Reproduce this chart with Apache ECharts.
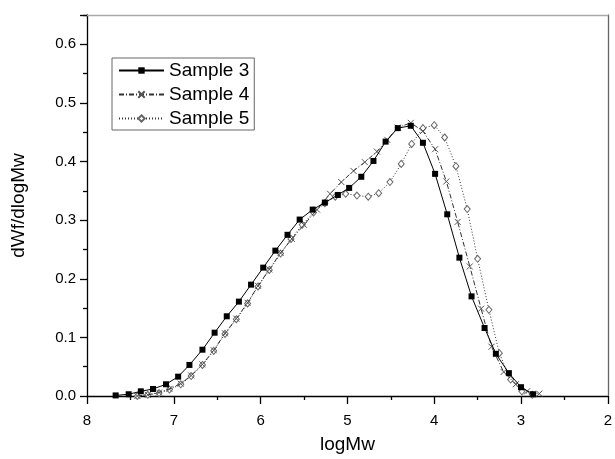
<!DOCTYPE html>
<html><head><meta charset="utf-8">
<script src="https://cdn.jsdelivr.net/npm/echarts@6/dist/echarts.min.js"></script>
<style>html,body{margin:0;padding:0;background:#fff}#c{width:615px;height:459px}</style>
</head><body><div id="c"></div>
<script>
// logMw values and dWf/dlogMw values
const sample3X = [7.67, 7.52, 7.38, 7.24, 7.09, 6.95, 6.82, 6.67, 6.53, 6.39, 6.25, 6.11, 5.97, 5.83, 5.69, 5.55, 5.40, 5.26, 5.11, 4.98, 4.84, 4.70, 4.56, 4.42, 4.27, 4.13, 3.99, 3.85, 3.71, 3.57, 3.42, 3.29, 3.14, 3.00, 2.86];
const sample3Y = [0.001, 0.003, 0.008, 0.012, 0.020, 0.033, 0.053, 0.079, 0.108, 0.136, 0.161, 0.190, 0.219, 0.248, 0.275, 0.301, 0.318, 0.330, 0.343, 0.355, 0.374, 0.401, 0.434, 0.457, 0.461, 0.432, 0.379, 0.310, 0.236, 0.170, 0.116, 0.072, 0.039, 0.015, 0.003];

const sample4X = [7.42, 7.30, 7.17, 7.05, 6.92, 6.80, 6.67, 6.54, 6.41, 6.28, 6.15, 6.03, 5.90, 5.77, 5.64, 5.50, 5.35, 5.20, 5.07, 4.93, 4.80, 4.66, 4.54, 4.42, 4.27, 4.13, 3.99, 3.86, 3.73, 3.59, 3.46, 3.34, 3.20, 3.06, 2.93, 2.79];
const sample4Y = [0.000, 0.002, 0.006, 0.012, 0.021, 0.035, 0.054, 0.078, 0.107, 0.132, 0.159, 0.188, 0.216, 0.244, 0.268, 0.292, 0.318, 0.345, 0.365, 0.384, 0.399, 0.417, 0.437, 0.458, 0.466, 0.452, 0.421, 0.366, 0.297, 0.221, 0.149, 0.084, 0.041, 0.020, 0.008, 0.004];

const sample5X = [7.42, 7.30, 7.17, 7.05, 6.92, 6.80, 6.67, 6.54, 6.41, 6.28, 6.15, 6.03, 5.90, 5.77, 5.65, 5.52, 5.39, 5.26, 5.14, 5.02, 4.89, 4.76, 4.64, 4.51, 4.38, 4.26, 4.13, 4.00, 3.88, 3.75, 3.62, 3.50, 3.37, 3.25, 3.12, 2.99, 2.87];
const sample5Y = [0.000, 0.002, 0.005, 0.011, 0.020, 0.034, 0.053, 0.077, 0.106, 0.131, 0.158, 0.187, 0.215, 0.243, 0.268, 0.292, 0.313, 0.329, 0.340, 0.345, 0.342, 0.340, 0.346, 0.365, 0.396, 0.430, 0.457, 0.462, 0.441, 0.392, 0.319, 0.234, 0.147, 0.073, 0.028, 0.008, 0.002];

const seriesNames = ['Sample 3', 'Sample 4', 'Sample 5'];
const xTitle = 'logMw';
const yTitle = 'dWf/dlogMw';

function pairs(xs, ys) { return xs.map((x, i) => [x, ys[i]]); }

const FONT = '"Liberation Sans", Arial, sans-serif';
const chart = echarts.init(document.getElementById('c'), null, {renderer: 'canvas'});

const option = {
  animation: false,
  backgroundColor: '#fff',
  textStyle: {fontFamily: FONT},
  grid: {left: 87, right: 2, top: 15, bottom: 55},
  legend: {
    orient: 'vertical', left: 112, top: 58,
    padding: [2, 5, 1, 6], itemGap: 3,
    itemWidth: 45, itemHeight: 8,
    borderColor: '#666', borderWidth: 1,
    textStyle: {fontSize: 19, color: '#000', fontFamily: FONT, lineHeight: 21},
    data: seriesNames
  },
  xAxis: [{
    type: 'value', min: 2, max: 8, interval: 1, inverse: true,
    name: xTitle, nameLocation: 'middle', nameGap: 39,
    nameTextStyle: {fontSize: 19, color: '#000', fontFamily: FONT},
    axisLine: {onZero: false, lineStyle: {color: '#000', width: 1.3}},
    axisTick: {length: 8, lineStyle: {color: '#000', width: 1.3}},
    minorTick: {show: true, splitNumber: 2, length: 4, lineStyle: {color: '#000', width: 1.3}},
    splitLine: {show: false},
    axisLabel: {fontSize: 15, color: '#000', margin: 17, fontFamily: FONT}
  }, {
    type: 'value', position: 'top', min: 2, max: 8, inverse: true,
    axisLine: {onZero: false, lineStyle: {color: '#aaa', width: 1.3}},
    axisTick: {show: false}, axisLabel: {show: false}, splitLine: {show: false}
  }],
  yAxis: [{
    type: 'value', min: 0, max: 0.65, interval: 0.1,
    name: yTitle, nameLocation: 'middle', nameGap: 59, nameRotate: 90,
    nameTextStyle: {fontSize: 19, color: '#000', fontFamily: FONT},
    axisLine: {onZero: false, lineStyle: {color: '#000', width: 1.3}},
    axisTick: {length: 7, lineStyle: {color: '#000', width: 1.3}},
    minorTick: {show: true, splitNumber: 2, length: 4, lineStyle: {color: '#000', width: 1.3}},
    splitLine: {show: false},
    axisLabel: {fontSize: 15, color: '#000', margin: 11, fontFamily: FONT,
      formatter: v => (v > 0.62 ? '' : v.toFixed(1))}
  }, {
    type: 'value', position: 'right', min: 0, max: 0.65,
    axisLine: {onZero: false, lineStyle: {color: '#666', width: 1.3}},
    axisTick: {show: false}, axisLabel: {show: false}, splitLine: {show: false}
  }],
  series: [{
    name: seriesNames[0], type: 'line', data: pairs(sample3X, sample3Y),
    showAllSymbol: true, symbol: 'rect', symbolSize: 6,
    color: '#000',
    lineStyle: {color: '#000', width: 1},
    itemStyle: {color: '#000'},
    emphasis: {disabled: true}, z: 4
  }, {
    name: seriesNames[1], type: 'line', data: pairs(sample4X, sample4Y),
    showAllSymbol: true, symbol: 'path://M0,0L10,10M10,0L0,10', symbolSize: 6,
    color: '#333',
    lineStyle: {color: '#333', width: 1, type: [5, 2, 1, 2]},
    itemStyle: {color: 'rgba(0,0,0,0)', borderColor: '#555', borderWidth: 1},
    emphasis: {disabled: true}, z: 3
  }, {
    name: seriesNames[2], type: 'line', data: pairs(sample5X, sample5Y),
    showAllSymbol: true, symbol: 'diamond', symbolSize: [6, 7],
    color: '#333',
    lineStyle: {color: '#333', width: 1, type: [1, 2]},
    itemStyle: {color: '#fff', borderColor: '#666', borderWidth: 1},
    emphasis: {disabled: true}, z: 2
  }]
};
chart.setOption(option);
</script>
</body></html>
